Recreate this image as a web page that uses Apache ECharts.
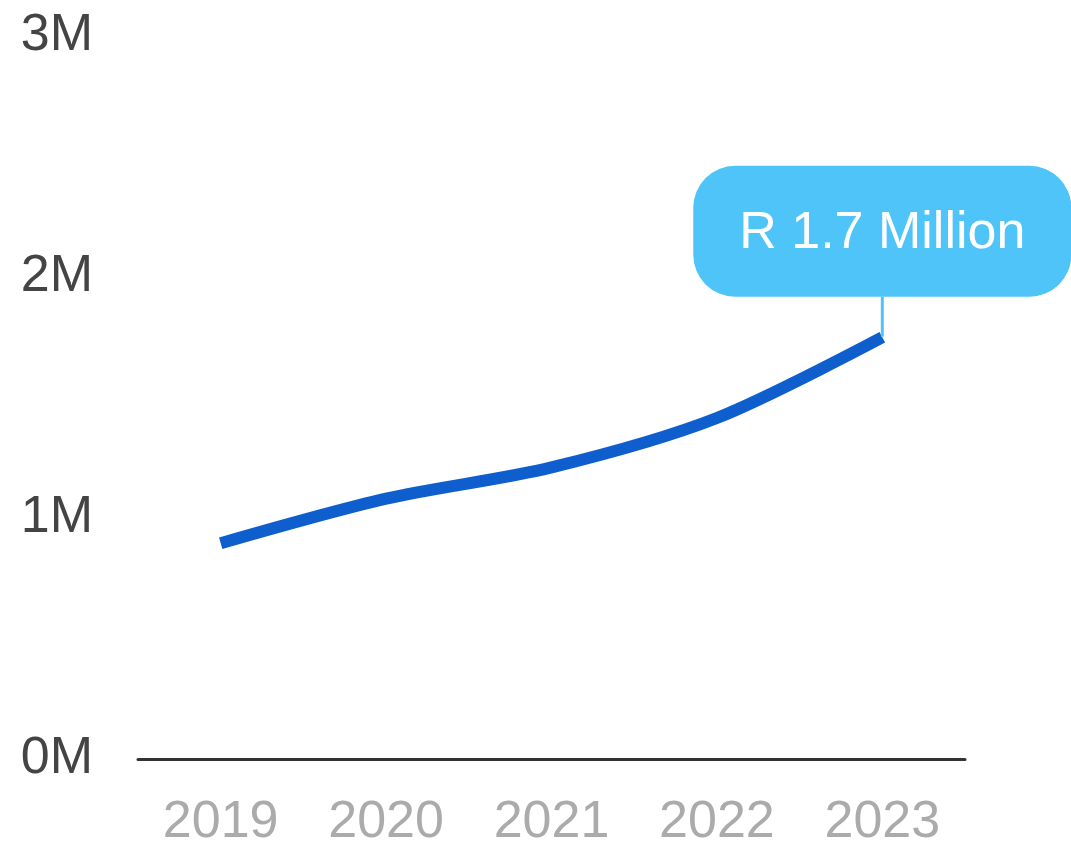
<!DOCTYPE html>
<html>
<head>
<meta charset="utf-8">
<script src="https://cdn.jsdelivr.net/npm/echarts@6/dist/echarts.min.js"></script>
<style>html,body{margin:0;padding:0;background:#fff}#c{width:1071px;height:843px}</style>
</head>
<body>
<div id="c"></div>
<script>
var years = ['2019', '2020', '2021', '2022', '2023'];
var values = [0.895, 1.08, 1.21, 1.415, 1.75];
var yTicks = [0, 1, 2, 3];
var calloutText = 'R 1.7 Million';

var chart = echarts.init(document.getElementById('c'));
var lastIdx = values.length - 1;
var seriesData = values.map(function (v, i) {
  if (i !== lastIdx) return v;
  return {
    value: v,
    label: {
      show: true,
      position: 'top',
      distance: 0,
      formatter: calloutText,
      color: '#ffffff',
      fontSize: 52,
      fontFamily: 'Liberation Sans, Arial, sans-serif',
      backgroundColor: '#4FC4F8',
      borderRadius: 42,
      padding: [42, 46, 37, 46]
    },
    labelLine: { show: true, lineStyle: { color: '#4FC4F8', width: 3 } }
  };
});

chart.setOption({
  animation: false,
  grid: { left: 138, right: 106, top: 36, bottom: 84, outerBoundsMode: 'none', containLabel: false },
  xAxis: {
    type: 'category',
    data: years,
    boundaryGap: true,
    axisLine: { show: true, lineStyle: { color: '#333333', width: 3 } },
    axisTick: { show: false },
    axisLabel: { color: '#ABABAB', fontSize: 52, margin: 38, fontFamily: 'Liberation Sans, Arial, sans-serif' },
    splitLine: { show: false }
  },
  yAxis: {
    type: 'value',
    min: yTicks[0],
    max: yTicks[yTicks.length - 1],
    interval: 1,
    axisLine: { show: false },
    axisTick: { show: false },
    splitLine: { show: false },
    axisLabel: {
      color: '#444444', fontSize: 52, margin: 45,
      fontFamily: 'Liberation Sans, Arial, sans-serif',
      formatter: function (v) { return v + 'M'; }
    }
  },
  series: [{
    type: 'line',
    data: seriesData,
    smooth: 0.3,
    showSymbol: true,
    symbol: 'circle',
    symbolSize: 1,
    itemStyle: { color: 'rgba(0,0,0,0)', borderWidth: 0 },
    lineStyle: { color: '#0E5FCD', width: 12, cap: 'butt' },
    labelLayout: { dy: -40 }
  }]
});
</script>
</body>
</html>
